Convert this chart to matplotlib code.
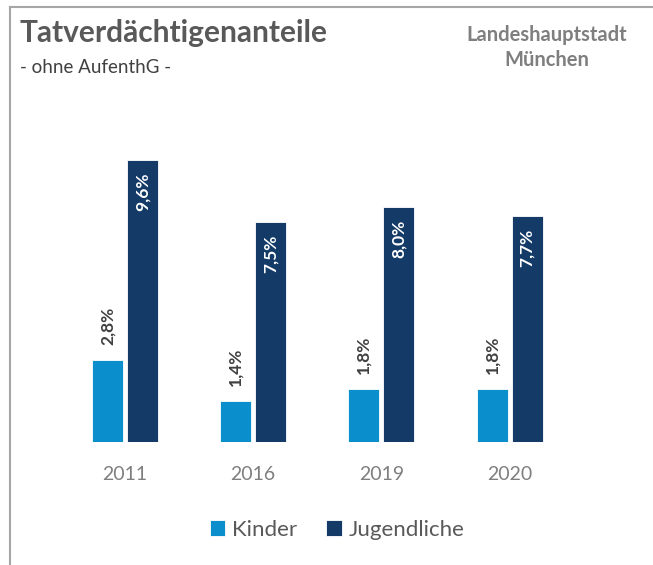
import numpy as np
import matplotlib.pyplot as plt
from matplotlib.lines import Line2D

years = ['2011', '2016', '2019', '2020']
kinder = [2.8, 1.4, 1.8, 1.8]
jugendliche = [9.6, 7.5, 8.0, 7.7]
kinder_labels = ['2,8%', '1,4%', '1,8%', '1,8%']
jugend_labels = ['9,6%', '7,5%', '8,0%', '7,7%']

c_kinder = '#0A8FCC'
c_jugend = '#143B67'

plt.rcParams['font.family'] = ['Lato', 'DejaVu Sans']

fig = plt.figure(figsize=(6.53, 5.65), dpi=100)
W, H = 653, 565

# axes placed in pixel terms: baseline at y=442, group spacing ~128px
ax_l, ax_r, ax_t, ax_b = 40, 610, 140, 442
ax = fig.add_axes([ax_l / W, 1 - ax_b / H, (ax_r - ax_l) / W, (ax_b - ax_t) / H])
px_per_unit = 128.2
ax.set_xlim((ax_l - 125) / px_per_unit, (ax_r - 125) / px_per_unit)
ax.set_ylim(0, (ax_b - ax_t) / 29.4)

x = np.arange(len(years))
w = 0.242
off = 0.1365
b1 = ax.bar(x - off, kinder, w, color=c_kinder, edgecolor='white', linewidth=0.6)
b2 = ax.bar(x + off, jugendliche, w, color=c_jugend, edgecolor='white', linewidth=0.6)

for xi, v, t in zip(x, kinder, kinder_labels):
    ax.text(xi - off, v + 0.5, t, rotation=90, ha='center', va='bottom',
            fontsize=12.5, fontweight='bold', color='#404040')
for xi, v, t in zip(x, jugendliche, jugend_labels):
    ax.text(xi + off, v - 0.45, t, rotation=90, ha='center', va='top',
            fontsize=12.5, fontweight='bold', color='white')

ax.set_xticks(x)
ax.set_xticklabels(years, fontsize=14, color='#7f7f7f')
ax.tick_params(axis='x', length=0, pad=17)
ax.set_yticks([])
for s in ax.spines.values():
    s.set_visible(False)

# frame lines
fig.add_artist(Line2D([10 / W, 1], [1 - 7 / H, 1 - 7 / H], color='#a6a6a6', lw=1.5))
fig.add_artist(Line2D([10 / W, 10 / W], [1 - 7 / H, 0], color='#a6a6a6', lw=1.5))

fig.text(20 / W, 1 - 42 / H, 'Tatverdächtigenanteile', fontsize=21.5, fontweight='bold',
         color='#595959', ha='left', va='baseline')
fig.text(20 / W, 1 - 73 / H, '- ohne AufenthG -', fontsize=13.5, color='#404040',
         ha='left', va='baseline')
fig.text(547 / W, 1 - 41 / H, 'Landeshauptstadt', fontsize=14.5, fontweight='bold',
         color='#7f7f7f', ha='center', va='baseline')
fig.text(547 / W, 1 - 66 / H, 'München', fontsize=14.5, fontweight='bold',
         color='#7f7f7f', ha='center', va='baseline')

leg = fig.legend([b1, b2], ['Kinder', 'Jugendliche'], loc='center',
                 bbox_to_anchor=(337 / W, 1 - 530 / H), ncol=2, frameon=False,
                 fontsize=16, handlelength=0.7, handleheight=0.7,
                 handletextpad=0.3, columnspacing=1.3)
for t in leg.get_texts():
    t.set_color('#595959')

fig.savefig('out.png', dpi=100, facecolor='white')
